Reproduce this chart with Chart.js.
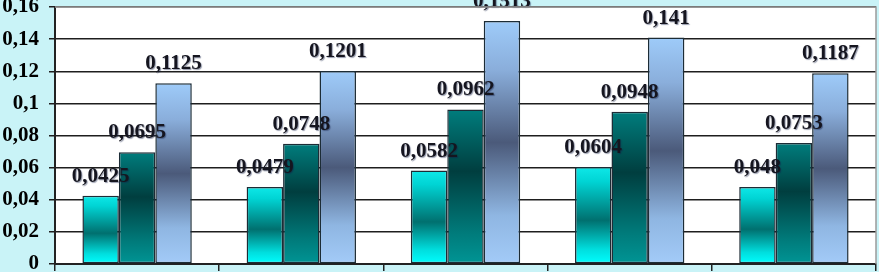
<!DOCTYPE html>
<html>
<head>
<meta charset="utf-8">
<script src="https://cdn.jsdelivr.net/npm/chart.js@4.4.1/dist/chart.umd.min.js"></script>
<style>
  html, body { margin: 0; padding: 0; background: #c9f3f7; }
  #wrap { width: 879px; height: 272px; position: relative; }
</style>
</head>
<body>
<div id="wrap"><canvas id="chart"></canvas></div>
<script>
// data
const categories = ['1', '2', '3', '4', '5'];
const seriesA = [0.0425, 0.0479, 0.0582, 0.0604, 0.048];
const seriesB = [0.0695, 0.0748, 0.0962, 0.0948, 0.0753];
const seriesC = [0.1125, 0.1201, 0.1513, 0.141, 0.1187];
const yTickLabels = ['0', '0,02', '0,04', '0,06', '0,08', '0,1', '0,12', '0,14', '0,16'];

const serif = "'Liberation Serif', 'Times New Roman', serif";

// vertical gradient per bar, from its top down to zero
function barGradient(stops) {
  return function (ctx) {
    const chart = ctx.chart;
    const y = chart.scales.y;
    if (ctx.type !== 'data' || !chart.chartArea || !y || ctx.raw == null) return stops[0][1];
    const top = y.getPixelForValue(ctx.raw);
    const base = y.getPixelForValue(0);
    if (!isFinite(top) || !isFinite(base) || top === base) return stops[0][1];
    const g = chart.ctx.createLinearGradient(0, top, 0, base);
    stops.forEach(s => g.addColorStop(s[0], s[1]));
    return g;
  };
}

const cyanStops = [[0, '#0ee8e8'], [0.15, '#00d4d4'], [0.55, '#00706f'], [0.85, '#00dede'], [1, '#00ffff']];
const tealStops = [[0, '#007d7d'], [0.4, '#003e3f'], [0.8, '#007b7b'], [1, '#009595']];
const blueStops = [[0, '#9ecbf9'], [0.2, '#8aaedb'], [0.5, '#4b5a7a'], [0.8, '#8fb6e2'], [1, '#a3cbf8']];

// white plot area and grey frame
const plotArea = {
  id: 'plotArea',
  beforeDraw(chart) {
    const { ctx, chartArea: a } = chart;
    ctx.save();
    ctx.fillStyle = '#ffffff';
    ctx.fillRect(a.left, a.top, a.right - a.left, a.bottom - a.top);
    ctx.restore();
  },
  afterDraw(chart) {
    const { ctx, chartArea: a } = chart;
    ctx.save();
    ctx.strokeStyle = '#9a9a9a';
    ctx.lineWidth = 1.5;
    ctx.beginPath();
    ctx.moveTo(a.left, a.top);
    ctx.lineTo(a.right, a.top);
    ctx.lineTo(a.right, a.bottom);
    ctx.stroke();
    ctx.restore();
  }
};

// value labels over each bar
const valueLabels = {
  id: 'valueLabels',
  afterDatasetsDraw(chart) {
    const ctx = chart.ctx;
    ctx.save();
    ctx.font = 'bold 21px ' + serif;
    ctx.textAlign = 'center';
    ctx.textBaseline = 'alphabetic';
    ctx.fillStyle = '#15151f';
    ctx.shadowColor = 'rgba(20,30,70,0.45)';
    ctx.shadowOffsetX = 1;
    ctx.shadowOffsetY = 1;
    ctx.shadowBlur = 1;
    chart.data.datasets.forEach((ds, i) => {
      chart.getDatasetMeta(i).data.forEach((bar, j) => {
        const txt = String(ds.data[j]).replace('.', ',');
        ctx.fillText(txt, bar.x, bar.y - 14);
      });
    });
    ctx.restore();
  }
};

new Chart(document.getElementById('chart'), {
  type: 'bar',
  data: {
    labels: categories,
    datasets: [
      { data: seriesA, backgroundColor: barGradient(cyanStops) },
      { data: seriesB, backgroundColor: barGradient(tealStops) },
      { data: seriesC, backgroundColor: barGradient(blueStops) }
    ]
  },
  options: {
    responsive: true,
    maintainAspectRatio: false,
    animation: false,
    layout: { padding: { top: 7, right: 3, left: 0, bottom: 0 } },
    datasets: {
      bar: {
        categoryPercentage: 0.666,
        barPercentage: 1,
        borderColor: '#1c2c36',
        borderWidth: 1.5,
        borderSkipped: false
      }
    },
    plugins: {
      legend: { display: false },
      tooltip: { enabled: false }
    },
    scales: {
      x: {
        offset: true,
        ticks: { display: false },
        grid: {
          offset: true,
          drawOnChartArea: false,
          drawTicks: true,
          tickLength: 7,
          color: '#222',
          lineWidth: 1.5
        },
        border: { color: '#222', width: 2 },
        afterFit(scale) { scale.height = 8; }
      },
      y: {
        min: 0,
        max: 0.16,
        ticks: {
          stepSize: 0.02,
          color: '#000',
          padding: 10,
          font: { family: serif, size: 21, weight: 'bold' },
          callback: (v, i) => yTickLabels[i]
        },
        grid: { color: '#1e1e1e', lineWidth: 1.5, tickLength: 6 },
        border: { color: '#222', width: 2 },
        afterFit(scale) {
          scale.width = 55;
          scale.paddingTop = 0;
          scale.paddingBottom = 0;
        }
      }
    }
  },
  plugins: [plotArea, valueLabels]
});
</script>
</body>
</html>
